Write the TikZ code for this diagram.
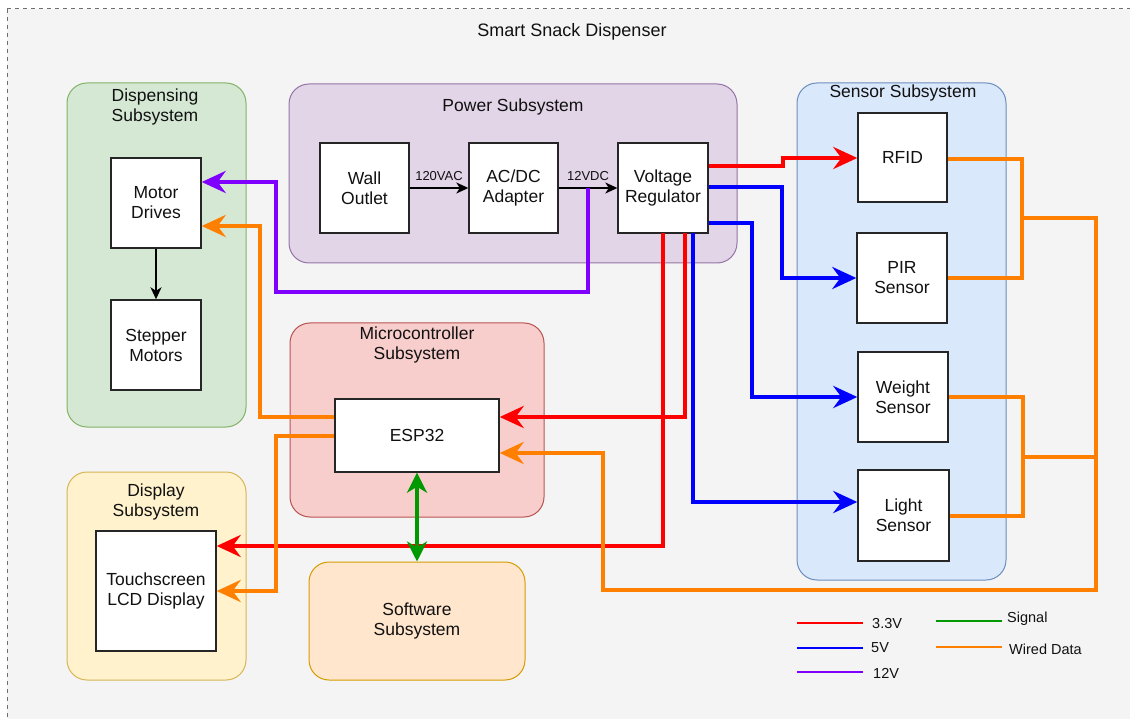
\documentclass[tikz,border=0pt]{standalone}
\usepackage{fontspec}
\setmainfont{Liberation Sans}
\usetikzlibrary{arrows.meta}

\definecolor{bgpage}{HTML}{F4F4F4}
\definecolor{frame}{HTML}{6E6E6E}
\definecolor{grnfill}{HTML}{D5E8D4}\definecolor{grnline}{HTML}{82B366}
\definecolor{purfill}{HTML}{E1D5E7}\definecolor{purline}{HTML}{9673A6}
\definecolor{blufill}{HTML}{DAE8FC}\definecolor{bluline}{HTML}{6C8EBF}
\definecolor{redfill}{HTML}{F8CECC}\definecolor{redline}{HTML}{B85450}
\definecolor{yelfill}{HTML}{FFF2CC}\definecolor{yelline}{HTML}{D6B656}
\definecolor{orgfill}{HTML}{FFE6CC}\definecolor{orgline}{HTML}{D79B00}
\definecolor{wred}{HTML}{FF0000}
\definecolor{wblue}{HTML}{0000FF}
\definecolor{wpurple}{HTML}{7F00FF}
\definecolor{worange}{HTML}{FF8000}
\definecolor{wgreen}{HTML}{009900}
\definecolor{txt}{HTML}{111111}

\tikzset{
  lbl/.style={font=\fontsize{17.5}{20}\selectfont, text=txt, align=center, inner sep=0pt},
  small/.style={font=\fontsize{13}{14}\selectfont, text=txt, inner sep=0pt},
  legtxt/.style={font=\fontsize{14.5}{16}\selectfont, text=txt, inner sep=0pt, anchor=west},
  group/.style={rounded corners=20pt, line width=1pt},
  blk/.style={draw=black!85, fill=white, line width=1.4pt, lbl, minimum width=90pt, minimum height=90pt},
  thin/.style={line width=1.4pt, draw=black, -{Stealth[length=12pt,width=11pt,inset=3.5pt]}},
  wire/.style={line width=4pt, line join=miter},
  bigtip/.style={-{Stealth[length=24pt,width=22pt,inset=8pt]}},
  wr/.style={wire, draw=wred},
  wb/.style={wire, draw=wblue},
  wp/.style={wire, draw=wpurple},
  wo/.style={wire, draw=worange},
  wg/.style={wire, draw=wgreen},
  legline/.style={line width=2.2pt},
}

\begin{document}
\begin{tikzpicture}[x=1pt, y=-1pt]
\useasboundingbox (0,0) rectangle (1130,719);
\clip (0,0) rectangle (1130,719);

% page background with dashed frame
\fill[white] (0,0) rectangle (1130,719);
\draw[fill=bgpage, draw=frame, line width=1pt, dash pattern=on 4pt off 4pt] (7,9) rectangle (1150,740);
\node[lbl, font=\fontsize{18}{20}\selectfont] (title) at (572,32) {Smart Snack Dispenser};

% subsystem groups
\draw[group, fill=grnfill, draw=grnline] (67,83) rectangle (246,427);
\node[lbl] (tDisp) at (155,107) {Dispensing\\Subsystem};
\draw[group, fill=purfill, draw=purline] (289,84) rectangle (737,263);
\node[lbl] (tPow) at (513,107) {Power Subsystem};
\draw[group, fill=blufill, draw=bluline] (797,83) rectangle (1006,580);
\node[lbl] (tSens) at (903,93) {Sensor Subsystem};
\draw[group, fill=redfill, draw=redline] (290,323) rectangle (544,517);
\node[lbl] (tMcu) at (417,345) {Microcontroller\\Subsystem};
\draw[group, fill=yelfill, draw=yelline] (67,472) rectangle (246,680);
\node[lbl] (tDisp2) at (156,502) {Display\\Subsystem};
\node[group, draw=orgline, fill=orgfill, lbl, minimum width=216pt, minimum height=118pt] (sw) at (417,621) {Software\\Subsystem};

% blocks
\node[blk] (motor)   at (156,203) {Motor\\Drives};
\node[blk] (stepper) at (156,345) {Stepper\\Motors};
\node[blk, minimum width=89pt] (wall) at (364.5,188) {Wall\\Outlet};
\node[blk, minimum width=89pt] (acdc) at (513.5,188) {AC/DC\\Adapter};
\node[blk] (vreg) at (663,188) {Voltage\\Regulator};
\node[blk, minimum width=89pt, minimum height=89pt] (rfid) at (902.5,157.5) {RFID};
\node[blk] (pir)    at (902,278) {PIR\\Sensor};
\node[blk] (weight) at (903,397) {Weight\\Sensor};
\node[blk, minimum width=91pt, minimum height=91pt] (light) at (903.5,515.5) {Light\\Sensor};
\node[blk, minimum width=164pt, minimum height=73pt] (esp) at (417,435.5) {ESP32};
\node[blk, minimum width=120pt, minimum height=120pt] (lcd) at (156,591) {Touchscreen\\LCD Display};

% power chain
\draw[thin] (wall) -- (acdc);
\node[small] (l120) at (439,176) {120VAC};
\draw[thin] (acdc) -- (vreg);
\node[small] (l12) at (588,176) {12VDC};
\draw[thin] (stepper.north |- motor.south) -- (stepper.north);

% 12V feed to motor drives
\coordinate (j12) at (588,188);
\draw[wp, bigtip] (j12) -- (588,292) -- (276,292) -- (276,182) -- (motor.east |- 0,182);

% regulator outputs
\draw[wr, bigtip] (vreg.east |- 0,166) -- (783,166) -- (783,158) -- (rfid.west |- 0,158);
\draw[wb, bigtip] (vreg.east |- 0,187) -- (782,187) -- (782,278) -- (pir.west);
\draw[wb, bigtip] (vreg.east |- 0,223) -- (752,223) -- (752,397) -- (weight.west);
\draw[wb, bigtip] (693,233) -- (693,502) -- (light.west |- 0,502);
\draw[wr, bigtip] (685,233) -- (685,417) -- (esp.east |- 0,417);
\draw[wr, bigtip] (663,233) -- (663,546) -- (lcd.east |- 0,546);

% wired data from the sensors
\draw[wo] (rfid.east |- 0,159) -- (1022,159) -- (1022,278) -- (pir.east);
\draw[wo] (weight.east) -- (1023,397) -- (1023,516) -- (light.east |- 0,516);
\draw[wo] (1023,457) -- (1096,457);
\draw[wo, bigtip] (1022,218) -- (1096,218) -- (1096,590) -- (603,590) -- (603,453) -- (esp.east |- 0,453);

% wired data from the ESP32
\draw[wo, bigtip] (esp.west |- 0,417) -- (260,417) -- (260,226) -- (motor.east |- 0,226);
\draw[wo, bigtip] (esp.west |- 0,436) -- (276,436) -- (276,591) -- (lcd.east);

% signal link to software
\draw[wg, {Stealth[length=20pt,width=20pt,inset=6pt]}-{Stealth[length=20pt,width=20pt,inset=6pt]}] (esp.south) -- (sw.north);

% legend
\draw[legline, draw=wred]    (797,623) -- (863,623);
\node[legtxt] (k33) at (872,624) {3.3V};
\draw[legline, draw=wblue]   (797,648) -- (863,648);
\node[legtxt] (k5) at (871,648) {5V};
\draw[legline, draw=wpurple] (797,672) -- (863,672);
\node[legtxt] (k12) at (873,673) {12V};
\draw[legline, draw=wgreen]  (936,621) -- (1002,621);
\node[legtxt] (ksig) at (1007,619) {Signal};
\draw[legline, draw=worange] (936,647) -- (1002,647);
\node[legtxt] (kwd) at (1009,649) {Wired Data};
\end{tikzpicture}
\end{document}
